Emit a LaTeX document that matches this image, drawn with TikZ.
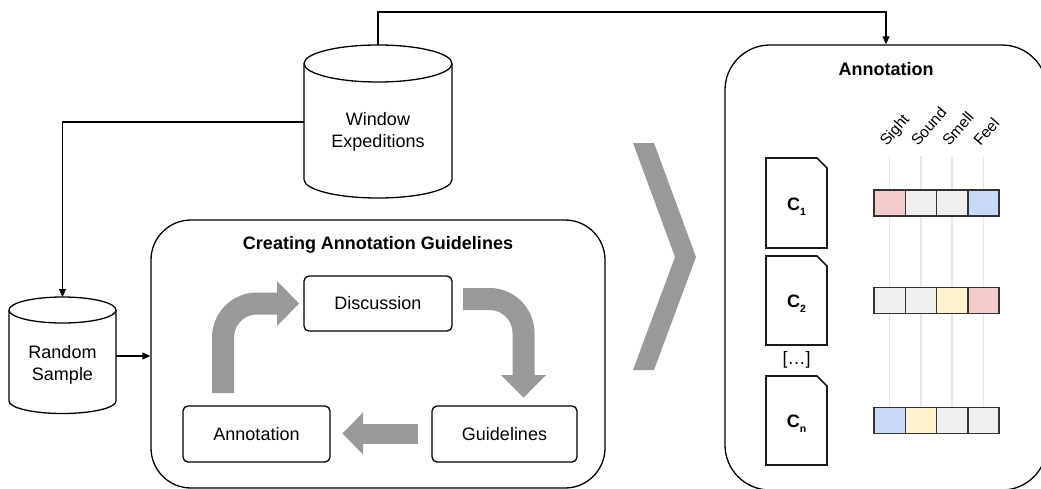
\documentclass[tikz,border=0pt]{standalone}
\usepackage{fontspec}
\setmainfont{Liberation Sans}
\usetikzlibrary{arrows.meta,calc}

\definecolor{flowgray}{HTML}{999999}
\definecolor{guidegray}{HTML}{E6E6E6}
\definecolor{cellline}{HTML}{333333}
\definecolor{pinkc}{HTML}{F4CCCC}
\definecolor{grayc}{HTML}{EFEFEF}
\definecolor{yellowc}{HTML}{FFF2CC}
\definecolor{bluec}{HTML}{C9DAF8}

\newcommand{\csub}[1]{{\bfseries C\raisebox{-0.55ex}{\fontsize{10.5}{11}\selectfont\bfseries #1}}}

\tikzset{
  outline/.style={draw=black, line width=1.3pt},
  conn/.style={draw=black, line width=1.1pt, -{Triangle[length=8pt,width=7pt]}},
  txt/.style={font=\fontsize{18}{21.5}\selectfont, align=center, inner sep=0pt},
  title/.style={font=\fontsize{18}{21.5}\selectfont\bfseries, inner sep=0pt},
  panel/.style={outline, rounded corners=#1, inner sep=0pt},
  stepbox/.style={outline, fill=white, rounded corners=5pt, inner sep=0pt,
    font=\fontsize{18}{21.5}\selectfont},
  flow/.style={draw=flowgray, line width=#1, line cap=butt},
  flowhead/.style={fill=flowgray, draw=none},
  doc/.style={draw=black!90, line width=1.6pt, fill=white},
  cell/.style={draw=cellline, line width=1.5pt, minimum width=31.25pt,
    minimum height=26pt, inner sep=0pt},
  guide/.style={draw=guidegray, line width=1.3pt},
  sense/.style={font=\fontsize{15.5}{17}\selectfont, rotate=49, anchor=base west, inner sep=0pt},
}

\begin{document}
\begin{tikzpicture}[x=1pt,y=1pt]
\useasboundingbox (0,0) rectangle (1041,-488);

% ---------- source database ----------
\fill[white] (304,-63.5) -- (304,-179.5) arc[start angle=180,end angle=360,x radius=74pt,y radius=18.5pt] -- (452,-63.5) -- cycle;
\draw[outline] (304,-63.5) -- (304,-179.5) arc[start angle=180,end angle=360,x radius=74pt,y radius=18.5pt] -- (452,-63.5);
\draw[outline] (378,-63.5) ellipse[x radius=74pt, y radius=18.5pt];
\node[txt] (we) at (378,-132) {Window\\Expeditions};
\coordinate (we-top) at (378,-45);
\coordinate (we-left) at (304,-122);

% ---------- sampled subset ----------
\draw[outline] (9,-310) -- (9,-401) arc[start angle=180,end angle=360,x radius=53.5pt,y radius=12.5pt] -- (116,-310);
\draw[outline] (62.5,-310) ellipse[x radius=53.5pt, y radius=13pt];
\node[txt] (rs) at (62.5,-365) {Random\\Sample};
\coordinate (rs-top) at (62.5,-297);
\coordinate (rs-right) at (116,-356);

% ---------- guideline creation loop ----------
\node[panel=40pt, minimum width=454pt, minimum height=268pt] (cag) at (378,-354) {};
\node[title] (cagtitle) at (378,-245) {Creating Annotation Guidelines};

\node[stepbox, minimum width=148pt, minimum height=55pt] (disc) at (378,-303.5) {Discussion};
\node[stepbox, minimum width=147pt, minimum height=56pt] (annl) at (256.5,-434) {Annotation};
\node[stepbox, minimum width=145pt, minimum height=56pt] (guid) at (504.5,-434) {Guidelines};

% Annotation -> Discussion
\coordinate (f1s) at (223,-393);
\coordinate (f1c) at (223,-303.5);
\coordinate (f1e) at (277,-303.5);
\draw[flow=22pt, rounded corners=34pt] (f1s) -- (f1c) -- (f1e);
\fill[flowhead] (277,-281) -- (299,-303.5) -- (277,-326) -- cycle;

% Discussion -> Guidelines
\coordinate (f2s) at (463,-299);
\coordinate (f2c) at (523.5,-299);
\coordinate (f2e) at (523.5,-375);
\draw[flow=22pt, rounded corners=34pt] (f2s) -- (f2c) -- (f2e);
\fill[flowhead] (501,-375) -- (523.5,-397.5) -- (546,-375) -- cycle;

% Guidelines -> Annotation
\coordinate (f3s) at (418,-433.5);
\coordinate (f3e) at (362.5,-433.5);
\draw[flow=20pt] (f3s) -- (f3e);
\fill[flowhead] (363,-412.5) -- (342.5,-433.5) -- (363,-454.5) -- cycle;

% ---------- chevron ----------
\fill[flowgray] (633,-143) -- (654,-143) -- (696,-257) -- (654,-370) -- (633,-370) -- (675,-257) -- cycle;

% ---------- annotation panel ----------
\node[panel=45pt, minimum width=322pt, minimum height=445pt] (ann) at (886,-267.5) {};
\node[title] (anntitle) at (886,-69) {Annotation};

% comment documents
\draw[doc] (766,-158) -- (817,-158) -- (827,-168) -- (827,-248) -- (766,-248) -- cycle;
\draw[doc] (766,-256) -- (817,-256) -- (827,-266) -- (827,-345) -- (766,-345) -- cycle;
\draw[doc] (766,-376) -- (817,-376) -- (827,-386) -- (827,-465) -- (766,-465) -- cycle;
\node[txt] (c1) at (796.5,-207) {\csub{1}};
\node[txt] (c2) at (796.5,-304) {\csub{2}};
\node[txt] (cn) at (796.5,-424) {\csub{n}};
\node[txt] (dots) at (796.5,-360) {[…]};

% sense columns
\foreach \s [count=\i] in {Sight,Sound,Smell,Feel} {
  \coordinate (g\i) at ({874+15.625+(\i-1)*31.25},-156);
  \node[sense] (lab\i) at ({874+15.625+(\i-1)*31.25-3},-147) {\s};
  \draw[guide] (g\i) -- ({874+15.625+(\i-1)*31.25},-409);
}

% label rows
\foreach \c [count=\i] in {pinkc,grayc,grayc,bluec}
  \node[cell, fill=\c] (ra\i) at ({874+15.625+(\i-1)*31.25},-203) {};
\foreach \c [count=\i] in {grayc,grayc,yellowc,pinkc}
  \node[cell, fill=\c] (rb\i) at ({874+15.625+(\i-1)*31.25},-300.5) {};
\foreach \c [count=\i] in {bluec,yellowc,grayc,grayc}
  \node[cell, fill=\c] (rc\i) at ({874+15.625+(\i-1)*31.25},-420.5) {};

% ---------- connectors ----------
\draw[conn] (we-top) |- (886,-12) -- (ann.north);
\draw[conn] (we-left) -| (rs-top);
\draw[conn] (rs-right) -- (rs-right -| cag.west);
\end{tikzpicture}
\end{document}
